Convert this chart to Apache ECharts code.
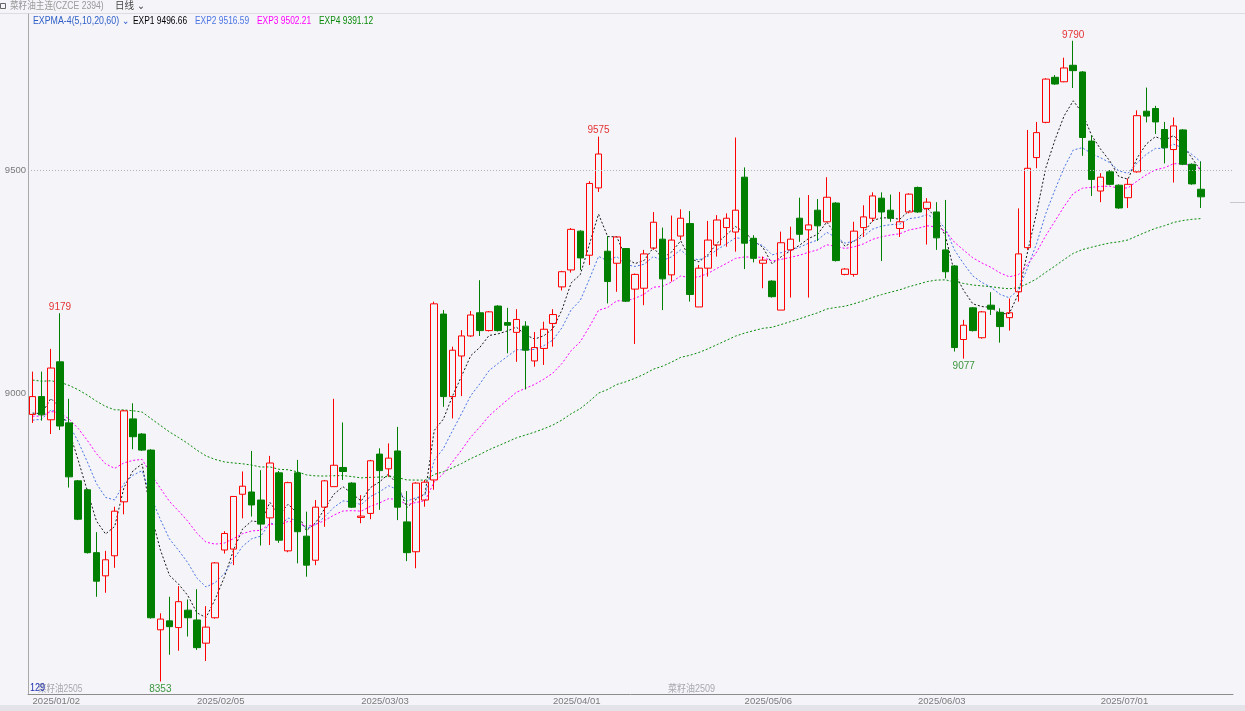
<!DOCTYPE html>
<html>
<head>
<meta charset="utf-8">
<script src="https://cdn.jsdelivr.net/npm/echarts@6/dist/echarts.min.js"></script>
<style>
html,body{margin:0;padding:0;background:#f4f4f9;}
#chart{width:1245px;height:711px;}
</style>
</head>
<body>
<div id="chart"></div>
<script>
const dates = [
'2025/01/02','2025/01/03','2025/01/06','2025/01/07','2025/01/08','2025/01/09','2025/01/10','2025/01/13','2025/01/14','2025/01/15','2025/01/16','2025/01/17','2025/01/20','2025/01/21','2025/01/22','2025/01/23','2025/01/24','2025/01/27',
'2025/02/05','2025/02/06','2025/02/07','2025/02/10','2025/02/11','2025/02/12','2025/02/13','2025/02/14','2025/02/17','2025/02/18','2025/02/19','2025/02/20','2025/02/21','2025/02/24','2025/02/25','2025/02/26','2025/02/27','2025/02/28',
'2025/03/03','2025/03/04','2025/03/05','2025/03/06','2025/03/07','2025/03/10','2025/03/11','2025/03/12','2025/03/13','2025/03/14','2025/03/17','2025/03/18','2025/03/19','2025/03/20','2025/03/21','2025/03/24','2025/03/25','2025/03/26','2025/03/27','2025/03/28','2025/03/31',
'2025/04/01','2025/04/02','2025/04/03','2025/04/07','2025/04/08','2025/04/09','2025/04/10','2025/04/11','2025/04/14','2025/04/15','2025/04/16','2025/04/17','2025/04/18','2025/04/21','2025/04/22','2025/04/23','2025/04/24','2025/04/25','2025/04/28','2025/04/29','2025/04/30',
'2025/05/06','2025/05/07','2025/05/08','2025/05/09','2025/05/12','2025/05/13','2025/05/14','2025/05/15','2025/05/16','2025/05/19','2025/05/20','2025/05/21','2025/05/22','2025/05/23','2025/05/26','2025/05/27','2025/05/28','2025/05/29','2025/05/30',
'2025/06/03','2025/06/04','2025/06/05','2025/06/06','2025/06/09','2025/06/10','2025/06/11','2025/06/12','2025/06/13','2025/06/16','2025/06/17','2025/06/18','2025/06/19','2025/06/20','2025/06/23','2025/06/24','2025/06/25','2025/06/26','2025/06/27','2025/06/30',
'2025/07/01','2025/07/02','2025/07/03','2025/07/04','2025/07/07','2025/07/08','2025/07/09','2025/07/10','2025/07/11','2025/07/14','2025/07/15','2025/07/16'
];
const opens = [
8952,8992,8940,9070,8933,8803,8783,8642,8590,8635,8756,8942,8908,8872,8469,8489,8474,8513,
8491,8439,8496,8648,8650,8773,8778,8760,8720,8821,8646,8821,8679,8625,8744,8790,8833,8798,
8721,8730,8863,8830,8870,8711,8644,8760,8805,9177,8992,9083,9128,9180,9140,9195,9158,9136,9150,9072,9100,
9156,9238,9276,9363,9309,9460,9318,9291,9324,9233,9235,9325,9345,9265,9352,9380,9193,9280,9332,9371,9361,
9484,9347,9291,9251,9186,9321,9392,9366,9410,9384,9426,9266,9266,9371,9392,9437,9410,9369,9406,
9461,9414,9406,9321,9285,9120,9191,9124,9197,9181,9169,9227,9326,9528,9607,9708,9698,9735,9720,9565,
9453,9496,9466,9438,9496,9632,9638,9591,9546,9590,9513,9457
];
const closes = [
8992,8951,9056,8926,8812,8717,8642,8578,8626,8735,8960,8902,8872,8496,8493,8476,8532,8496,
8429,8475,8619,8685,8768,8791,8749,8706,8843,8670,8799,8689,8614,8744,8803,8838,8824,8744,
8724,8848,8826,8854,8744,8642,8798,8800,9200,8992,9096,9128,9175,9140,9182,9140,9152,9165,9096,9102,9143,
9176,9272,9367,9303,9470,9536,9250,9350,9206,9266,9312,9383,9256,9343,9392,9221,9280,9343,9388,9392,9410,
9336,9302,9298,9216,9337,9345,9356,9377,9375,9439,9297,9278,9363,9395,9442,9406,9392,9384,9446,
9406,9428,9348,9272,9102,9152,9140,9182,9188,9149,9180,9312,9504,9584,9704,9693,9729,9723,9573,9479,
9484,9468,9415,9468,9622,9621,9608,9550,9599,9513,9469,9440
];
const lows = [
8933,8938,8908,8917,8788,8715,8640,8543,8552,8608,8728,8874,8870,8494,8353,8413,8422,8454,
8424,8399,8494,8640,8614,8719,8723,8658,8659,8664,8643,8618,8588,8614,8700,8790,8805,8742,
8708,8717,8738,8812,8715,8623,8607,8745,8783,8969,8943,8993,9126,9128,9138,9138,9089,9070,9008,9059,9063,
9104,9230,9270,9276,9287,9451,9201,9227,9204,9110,9197,9321,9186,9250,9343,9205,9193,9261,9306,9328,9317,
9278,9293,9235,9214,9186,9214,9339,9214,9341,9383,9295,9264,9261,9350,9384,9296,9384,9350,9403,
9404,9333,9321,9257,9093,9077,9138,9122,9175,9113,9140,9205,9321,9504,9605,9691,9697,9684,9532,9442,
9428,9466,9413,9415,9494,9607,9581,9515,9472,9511,9467,9415
];
const highs = [
9048,9048,9099,9179,8987,8805,8785,8688,8646,8745,8962,8977,8910,8874,8506,8543,8567,8537,
8560,8522,8621,8690,8768,8824,8870,8827,8859,8825,8801,8850,8734,8760,8805,8987,8934,8800,
8771,8850,8876,8887,8924,8780,8800,8805,9205,9186,9104,9141,9184,9253,9184,9197,9191,9188,9161,9137,9160,
9188,9274,9370,9365,9475,9575,9352,9350,9325,9268,9321,9406,9371,9398,9412,9408,9287,9386,9399,9403,9573,
9506,9354,9306,9253,9362,9373,9438,9444,9435,9484,9428,9280,9384,9421,9450,9450,9445,9451,9448,
9463,9437,9428,9433,9287,9164,9193,9184,9226,9190,9212,9414,9590,9608,9706,9713,9752,9790,9722,9578,
9493,9500,9468,9481,9634,9685,9644,9608,9618,9592,9515,9519
];
const tickLabels = ['2025/01/02','2025/02/05','2025/03/03','2025/04/01','2025/05/06','2025/06/03','2025/07/01'];
const yTickValues = [9000, 9500];
const emaPeriods = [5, 10, 20, 60];
const emaStart = [8955, 8939, 8948, 9029];
const emaNames = ['EXP1', 'EXP2', 'EXP3', 'EXP4'];
const emaLegendValues = ['9496.66', '9516.59', '9502.21', '9391.12'];
const highMarks = [3, 62, 114];
const lowMarks = [14, 102];

const emaColors = ['#1a1a1a', '#4a74e4', '#ff00ff', '#0a8a0a'];
const UP = '#ff0000', DOWN = '#007f00';

const padCount = 3;
const cats = dates.concat(Array(padCount).fill(''));
const kdata = dates.map((d, i) => [opens[i], closes[i], lows[i], highs[i]]);

function ema(period, start) {
  const k = 2 / (period + 1);
  const out = [];
  let v = start;
  closes.forEach((c, i) => {
    if (i > 0) v = v + k * (c - v);
    out.push(+v.toFixed(2));
  });
  return out;
}

const emaSeries = emaPeriods.map((p, j) => ({
  type: 'line', name: emaNames[j], data: ema(p, emaStart[j]),
  symbol: 'none', silent: true, z: 3,
  lineStyle: { color: emaColors[j], width: 1, type: [2, 2] }
}));

const font = 'Liberation Sans, Noto Sans CJK SC';
const chart = echarts.init(document.getElementById('chart'), null, { renderer: 'canvas' });

const markSeries = {
  type: 'scatter', symbolSize: 0, silent: true, z: 6,
  data: highMarks.map(i => ({ value: [i, highs[i]], label: { position: 'top', distance: 1, color: '#e00000' } }))
    .concat(lowMarks.map(i => ({ value: [i, lows[i]], label: { position: 'bottom', distance: 3, color: '#108010' } }))),
  label: { show: true, fontSize: 10, fontFamily: font, formatter: p => String(p.value[1]) }
};

function txt(x, y, s, color, sx, size) {
  return { type: 'text', x: x, y: y, scaleX: sx, z: 10,
    style: { text: s, fill: color, font: (size || 10) + 'px ' + font } };
}

const legendX = [33, 133, 195, 257, 319];
const graphics = [
  { type: 'rect', shape: { x: 0, y: 705, width: 1245, height: 6 }, style: { fill: '#e3e3e9' } },
  { type: 'line', shape: { x1: 0, y1: 13.5, x2: 1245, y2: 13.5 }, style: { stroke: '#dcdce3', lineWidth: 1 } },
  { type: 'rect', shape: { x: 0.5, y: 3.5, width: 5, height: 5 }, style: { fill: 'none', stroke: '#666', lineWidth: 1 } },
  txt(10, 1, '菜籽油主连(CZCE 2394)', '#9a9a9a', 0.86),
  txt(115, 1, '日线 ⌄', '#444', 0.95),
  txt(legendX[0], 16, 'EXPMA-4(5,10,20,60) ⌄', '#3060c8', 0.88),
  { type: 'line', shape: { x1: 1230, y1: 202.5, x2: 1245, y2: 202.5 }, style: { stroke: '#c8c8d0', lineWidth: 1 } },
  txt(38, 684, '菜籽油2505', '#a8a8b0', 0.85),
  txt(30, 683, '129', '#2030b0', 0.9),
  txt(668, 684, '菜籽油2509', '#a8a8b0', 0.9)
];
emaNames.forEach((n, j) => {
  graphics.push(txt(legendX[j + 1], 16, n + ' ' + emaLegendValues[j], j === 0 ? '#000' : emaColors[j], 0.84));
});

chart.setOption({
  animation: false,
  backgroundColor: '#f4f4f9',
  textStyle: { fontFamily: font },
  grid: { left: 28, right: 12, top: 14, bottom: 17 },
  xAxis: {
    type: 'category', data: cats, boundaryGap: true,
    axisLine: { show: true, lineStyle: { color: '#8c8c8c', width: 1 } },
    axisTick: { show: false },
    splitLine: { show: false },
    axisLabel: {
      interval: (idx, val) => tickLabels.indexOf(val) >= 0,
      align: 'left', margin: 3, color: '#7a7a7a', fontSize: 9.5, fontFamily: font,
      hideOverlap: false
    }
  },
  yAxis: {
    type: 'value', min: 8325, max: 9850, scale: true,
    axisLine: { show: true, onZero: false, lineStyle: { color: '#a8a8a8', width: 1 } },
    axisTick: { show: false },
    splitLine: { show: false },
    axisLabel: { customValues: yTickValues, formatter: v => String(v), margin: 2, color: '#7a7a7a', fontSize: 9.5, fontFamily: font }
  },
  graphic: graphics,
  series: [
    {
      type: 'candlestick', data: kdata, barWidth: 7, z: 4,
      itemStyle: { color: 'rgba(0,0,0,0)', color0: DOWN, borderColor: UP, borderColor0: DOWN, borderWidth: 1 },
      markLine: {
        silent: true, symbol: 'none', label: { show: false },
        lineStyle: { color: '#b0b0b8', type: [1, 2], width: 1 },
        data: [{ yAxis: 9500 }]
      }
    }
  ].concat(emaSeries).concat([markSeries])
});
</script>
</body>
</html>
